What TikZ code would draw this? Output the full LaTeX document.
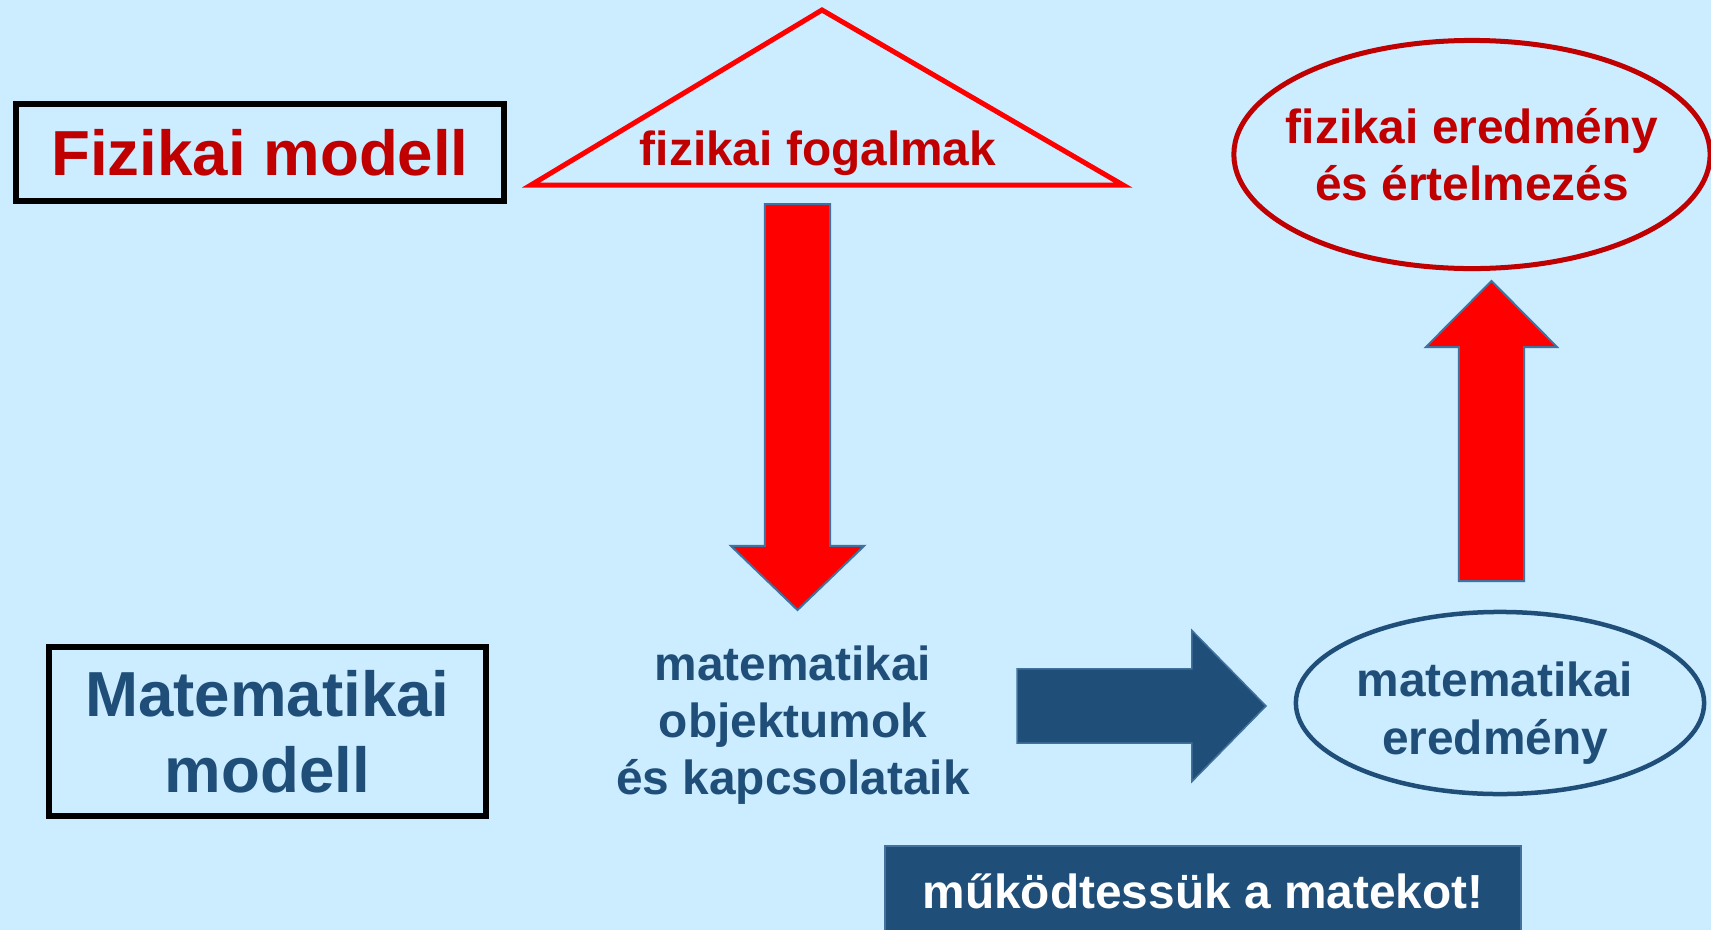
\documentclass[tikz,border=0pt]{standalone}
\usepackage{fontspec}
\setmainfont{Liberation Sans}
\usepackage{xcolor}
\usetikzlibrary{shapes.geometric, calc, positioning}

\definecolor{bgblue}{HTML}{CCECFF}
\definecolor{physred}{HTML}{C00000}
\definecolor{mathblue}{HTML}{1F4E79}
\definecolor{edgeblue}{HTML}{41719C}

\newcommand{\bigfont}{\fontsize{18.1}{21.7}\selectfont\bfseries}
\newcommand{\midfont}{\fontsize{13.6}{16.3}\selectfont\bfseries}

% block arrow: [style]{from}{to}{shaft half width}{head half width}{head length}
\newcommand{\blockarrow}[6][]{%
  \coordinate (hb) at ($(#3)!#6!(#2)$);
  \draw[#1] ($(#2)!#4!90:(#3)$) -- ($(hb)!#4!90:(#3)$) -- ($(hb)!#5!90:(#3)$) -- (#3)
    -- ($(hb)!#5!-90:(#3)$) -- ($(hb)!#4!-90:(#3)$) -- ($(#2)!#4!-90:(#3)$) -- cycle;}

\begin{document}
\begin{tikzpicture}[
  x=0.01cm, y=-0.01cm,
  titlebox/.style={rectangle, draw=black, line width=0.06cm, align=center, font=\bigfont, inner sep=0pt},
  plainlabel/.style={align=center, font=\midfont, inner sep=0pt},
  redbubble/.style={ellipse, draw=physred, line width=0.05cm, align=center, font=\midfont, text=physred, inner ysep=0pt, inner xsep=-0.2cm},
  bluebubble/.style={ellipse, draw=mathblue, line width=0.045cm, inner sep=0pt},
  redarrow/.style={fill=red, draw=edgeblue, line width=0.02cm},
  bluearrow/.style={fill=mathblue, draw=edgeblue, line width=0.015cm}
]
  \clip (0,0) rectangle (1711,930);
  \fill[bgblue] (0,0) rectangle (1711,930);

  % fizikai szint
  \node[titlebox, text=physred, minimum width=4.88cm, minimum height=0.97cm] (fizmod) at (260,152.5) {Fizikai modell};
  \coordinate (tricsucs) at (822,10);
  \coordinate (tribal) at (531,185);
  \coordinate (trijobb) at (1123,185);
  \draw[red, line width=0.05cm] (tricsucs) -- (trijobb) -- (tribal) -- cycle;
  \node[plainlabel, text=physred] (fogalmak) at (818,153) {fizikai fogalmak};
  \node[redbubble, minimum width=4.76cm, minimum height=2.28cm] (fizered) at (1472,154.5) {fizikai eredmény\\és értelmezés};

  % matematikai szint
  \node[titlebox, text=mathblue, minimum width=4.37cm, minimum height=1.69cm] (matmod) at (267.5,731.5) {Matematikai\\modell};
  \node[plainlabel, text=mathblue] (objekt) at (793,725) {matematikai\\objektumok\\és kapcsolataik};
  \node[bluebubble, minimum width=4.08cm, minimum height=1.82cm] (matered) at (1500,703) {};
  \node[plainlabel, text=mathblue] (mateszoveg) at ($(matered)+(-5,10)$) {matematikai\\eredmény};
  \node[fill=mathblue, draw=edgeblue, line width=0.015cm, text=white, font=\midfont, minimum width=6.36cm, minimum height=0.9cm] (mukod) at (1203,891) {működtessük a matekot!};

  % nyilak
  \coordinate (leTeto) at (797.5,204);
  \coordinate (leCsucs) at (797.5,610);
  \blockarrow[redarrow]{leTeto}{leCsucs}{0.325cm}{0.665cm}{0.64cm}
  \coordinate (felAlj) at (1491.5,581);
  \coordinate (felCsucs) at (1491.5,281);
  \blockarrow[redarrow]{felAlj}{felCsucs}{0.325cm}{0.655cm}{0.66cm}
  \coordinate (jobbKezd) at (1017,706);
  \coordinate (jobbCsucs) at (1266,706);
  \blockarrow[bluearrow]{jobbKezd}{jobbCsucs}{0.37cm}{0.755cm}{0.74cm}
\end{tikzpicture}
\end{document}
